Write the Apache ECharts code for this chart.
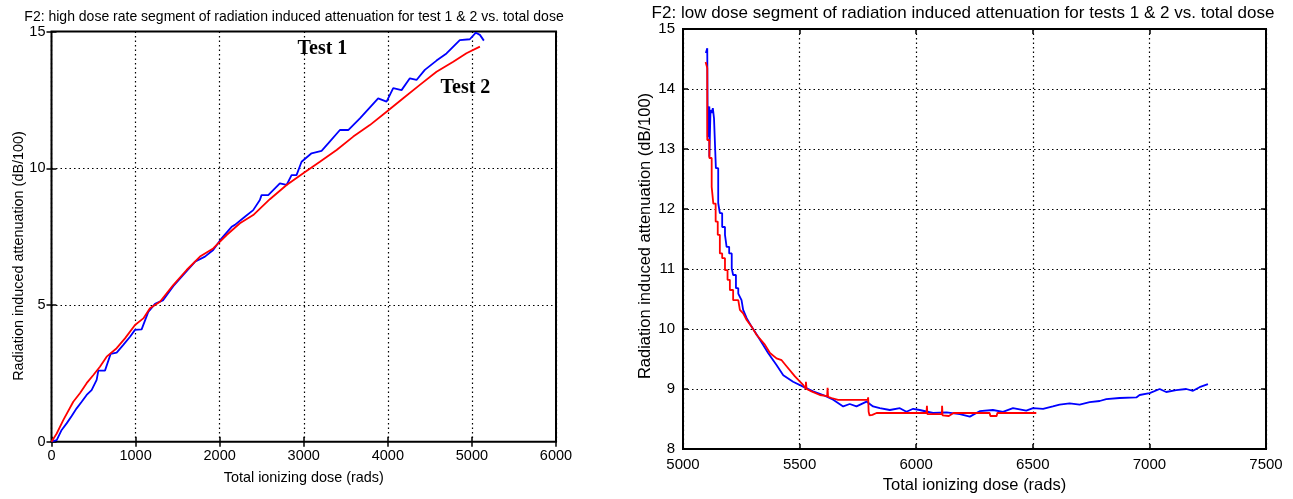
<!DOCTYPE html>
<html>
<head>
<meta charset="utf-8">
<script src="https://cdn.jsdelivr.net/npm/echarts@6/dist/echarts.min.js"></script>
<style>
html,body{margin:0;padding:0;background:#fff;}
#c{width:1293px;height:499px;}
</style>
</head>
<body>
<div id="c"></div>
<script>
// ---- Texts ----
const leftTitle = 'F2: high dose rate segment of radiation induced attenuation for test 1 & 2 vs. total dose';
const rightTitle = 'F2: low dose segment of radiation induced attenuation for tests 1 & 2 vs. total dose';
const xName = 'Total ionizing dose (rads)';
const yName = 'Radiation induced attenuation (dB/100)';

// ---- Data: left panel (high dose rate segment) ----
const highTest1 = [
 [0,0],[62,0.06],[121,0.43],[180,0.67],[240,0.94],[299,1.22],[359,1.46],[418,1.71],[477,1.89],
 [537,2.26],[557,2.6],[636,2.6],[703,3.21],[775,3.26],[854,3.54],[934,3.84],[993,4.09],[1072,4.11],
 [1151,4.75],[1231,5.04],[1329,5.18],[1448,5.69],[1567,6.1],[1706,6.58],[1825,6.77],[1923,7.01],
 [2023,7.44],[2142,7.86],[2181,7.93],[2300,8.23],[2399,8.47],[2478,8.84],[2498,9.02],[2578,9.02],
 [2716,9.45],[2796,9.39],[2855,9.75],[2914,9.75],[2974,10.24],[3093,10.55],[3212,10.64],[3291,10.91],
 [3430,11.4],[3529,11.4],[3668,11.83],[3885,12.56],[3985,12.44],[4064,12.93],[4163,12.86],[4262,13.29],
 [4341,13.23],[4440,13.6],[4579,13.94],[4698,14.2],[4856,14.69],[4975,14.72],[5047,14.96],[5095,14.88],[5142,14.67]
];
const highTest2 = [
 [0,0],[62,0.3],[140,0.79],[259,1.46],[338,1.77],[418,2.14],[498,2.44],[576,2.74],[656,3.11],
 [775,3.42],[874,3.78],[993,4.27],[1092,4.51],[1171,4.88],[1290,5.12],[1448,5.73],[1607,6.28],
 [1766,6.77],[1923,7.07],[2083,7.56],[2241,7.99],[2399,8.29],[2597,8.87],[2796,9.39],[2994,9.82],
 [3192,10.24],[3391,10.67],[3589,11.16],[3786,11.58],[3985,12.07],[4183,12.56],[4381,13.05],
 [4579,13.53],[4778,13.9],[4935,14.21],[5095,14.45]
];

// ---- Data: right panel (low dose segment) ----
const lowTest1 = [
 [5098,14.6],[5104,14.68],[5106,13.2],[5113,13.71],[5113,12.87],[5118,13.65],[5123,13.6],[5128,13.68],
 [5133,13.68],[5133,13.51],[5141,13.51],[5141,12.68],[5151,12.68],[5151,12.1],[5158,12.1],[5158,11.93],
 [5168,11.93],[5168,11.7],[5180,11.7],[5180,11.57],[5187,11.57],[5187,11.37],[5198,11.37],[5198,11.26],
 [5209,11.26],[5209,11.01],[5215,11.01],[5215,10.9],[5227,10.9],[5227,10.68],[5237,10.68],[5237,10.59],
 [5251,10.48],[5258,10.32],[5273,10.18],[5294,10.04],[5330,9.82],[5365,9.6],[5401,9.4],[5430,9.23],
 [5472,9.12],[5515,9.04],[5558,8.96],[5601,8.9],[5644,8.82],[5687,8.71],[5715,8.75],[5744,8.71],
 [5787,8.79],[5815,8.71],[5844,8.68],[5887,8.65],[5930,8.68],[5958,8.62],[5987,8.67],[6015,8.65],
 [6072,8.6],[6130,8.61],[6187,8.58],[6230,8.54],[6272,8.63],[6329,8.65],[6372,8.62],[6415,8.68],
 [6472,8.64],[6501,8.68],[6544,8.67],[6586,8.71],[6615,8.74],[6658,8.76],[6701,8.74],[6744,8.78],
 [6787,8.8],[6815,8.83],[6872,8.85],[6944,8.86],[6958,8.9],[7001,8.93],[7044,9.0],[7072,8.95],
 [7115,8.98],[7158,9.0],[7187,8.97],[7215,9.03],[7251,9.08]
];
const lowTest2 = [
 [5097,14.45],[5104,14.35],[5104,13.15],[5113,13.15],[5113,12.85],[5123,12.85],[5123,12.37],[5130,12.37],
 [5130,12.09],[5140,12.09],[5140,11.79],[5149,11.79],[5149,11.57],[5158,11.57],[5158,11.26],[5168,11.26],
 [5168,11.18],[5180,11.18],[5180,10.98],[5191,10.98],[5191,10.82],[5201,10.82],[5201,10.65],[5215,10.65],
 [5215,10.48],[5237,10.48],[5244,10.32],[5258,10.26],[5273,10.15],[5294,10.04],[5316,9.9],[5351,9.74],
 [5373,9.6],[5401,9.51],[5423,9.48],[5444,9.38],[5480,9.21],[5515,9.07],[5527,9.0],[5527,9.12],
 [5530,9.0],[5551,8.96],[5587,8.9],[5618,8.88],[5620,9.02],[5622,8.87],[5637,8.85],[5665,8.82],
 [5792,8.82],[5794,8.86],[5796,8.62],[5800,8.56],[5812,8.57],[5818,8.6],[5830,8.6],[5955,8.6],
 [5960,8.57],[5970,8.6],[6044,8.6],[6046,8.72],[6048,8.58],[6110,8.58],[6111,8.72],[6113,8.56],
 [6140,8.55],[6160,8.6],[6315,8.6],[6318,8.55],[6345,8.55],[6348,8.6],[6515,8.6]
];

const leftXTicks = {min:0, max:6000, interval:1000};
const leftYTicks = {min:0, max:15, interval:5};
const rightXTicks = {min:5000, max:7500, interval:500};
const rightYTicks = {min:8, max:15, interval:1};

const annotations = [
  {text:'Test 1', x:3222, y:14.36},
  {text:'Test 2', x:4923, y:12.96}
];

// ---- Chart ----
const FONT = 'Liberation Sans, Arial, sans-serif';
const chart = echarts.init(document.getElementById('c'), null, {renderer:'canvas'});
const plain = v => String(v);

function grid(left, right, top, bottom){
  return {left, right, top, bottom, containLabel:false, show:true,
          borderColor:'#000', borderWidth:2, backgroundColor:'#fff'};
}
const tickStyle = {show:true, inside:true, length:5, lineStyle:{color:'#000', width:1.5}};
const gridLine = {show:true, lineStyle:{color:'#000', width:1.2, type:[1.5,3]}};
function mainX(gi, t, fs, nfs, gap, margin){
  return {type:'value', gridIndex:gi, min:t.min, max:t.max, interval:t.interval, position:'bottom',
    name:xName, nameLocation:'middle', nameGap:gap,
    nameTextStyle:{color:'#000', fontSize:nfs, fontFamily:FONT},
    axisLine:{show:false}, axisTick:tickStyle,
    axisLabel:{color:'#000', fontSize:fs, fontFamily:FONT, margin, formatter:plain},
    splitLine:gridLine};
}
function sideX(gi, t){
  return {type:'value', gridIndex:gi, min:t.min, max:t.max, interval:t.interval, position:'top',
    axisLine:{show:false}, axisTick:tickStyle, axisLabel:{show:false}, splitLine:{show:false}};
}
function mainY(gi, t, fs, margin){
  return {type:'value', gridIndex:gi, min:t.min, max:t.max, interval:t.interval, position:'left',
    axisLine:{show:false}, axisTick:tickStyle,
    axisLabel:{color:'#000', fontSize:fs, fontFamily:FONT, margin, formatter:plain},
    splitLine:gridLine};
}
function sideY(gi, t){
  return {type:'value', gridIndex:gi, min:t.min, max:t.max, interval:t.interval, position:'right',
    axisLine:{show:false}, axisTick:tickStyle, axisLabel:{show:false}, splitLine:{show:false}};
}
function line(xi, yi, data, color){
  return {type:'line', xAxisIndex:xi, yAxisIndex:yi, data, symbol:'none', smooth:false,
    lineStyle:{color, width:1.8}, animation:false, z:3};
}

chart.setOption({
  animation:false,
  backgroundColor:'#fff',
  title:[
    {text:leftTitle, left:289, top:5, textAlign:'center',
     textStyle:{color:'#000', fontSize:14, fontWeight:'normal', fontFamily:FONT}},
    {text:rightTitle, left:958, top:0, textAlign:'center',
     textStyle:{color:'#000', fontSize:17, fontWeight:'normal', fontFamily:FONT}}
  ],
  grid:[grid(51.5, 737, 31.6, 57.3), grid(683, 27, 29, 50)],
  xAxis:[mainX(0, leftXTicks, 14.5, 14.4, 29, 7), mainX(1, rightXTicks, 15, 16.5, 28, 8),
         sideX(0, leftXTicks), sideX(1, rightXTicks)],
  yAxis:[mainY(0, leftYTicks, 14.5, 6), mainY(1, rightYTicks, 15, 8),
         sideY(0, leftYTicks), sideY(1, rightYTicks)],
  series:[
    line(0,0, highTest1, '#0000ff'),
    line(0,0, highTest2, '#ff0000'),
    line(1,1, lowTest1, '#0000ff'),
    line(1,1, lowTest2, '#ff0000')
  ]
});

// y-axis titles (rotated real text) and in-plot annotations
const yTitles = [
  {x:19, y:256, size:14.4},
  {x:645, y:236, size:16.5}
];
const gfx = yTitles.map(t => ({type:'text', x:t.x, y:t.y, rotation:Math.PI/2, z:10,
  style:{text:yName, fill:'#000', font:`${t.size}px ${FONT}`, textAlign:'center', textVerticalAlign:'middle'}}));
annotations.forEach(a => {
  const p = chart.convertToPixel({xAxisIndex:0, yAxisIndex:0}, [a.x, a.y]);
  gfx.push({type:'text', x:p[0], y:p[1], z:10,
    style:{text:a.text, fill:'#000', font:'bold 20px "Liberation Serif", "Times New Roman", serif',
           textAlign:'center', textVerticalAlign:'middle'}});
});
chart.setOption({graphic:gfx});
</script>
</body>
</html>
